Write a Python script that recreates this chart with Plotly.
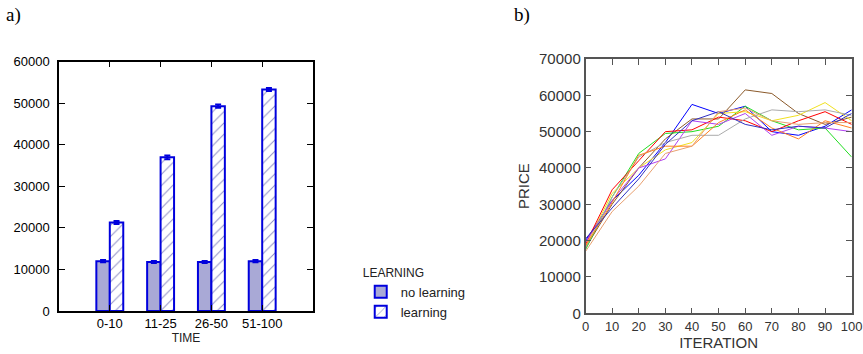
import plotly.graph_objects as go

# ---- panel a) data ----
categories = ["0-10", "11-25", "26-50", "51-100"]
no_learning = [12000, 11800, 11800, 12000]
no_learning_err = [250, 250, 250, 250]
learning = [21300, 37000, 49300, 53300]
learning_err = [350, 450, 400, 350]

# ---- panel b) data ----
iterations = [0, 10, 20, 30, 40, 50, 60, 70, 80, 90, 100]
runs = {
    "blue":     [20000, 31000, 38000, 47000, 57500, 55000, 57000, 50000, 49000, 51500, 56000],
    "#8B5A2B":  [18000, 30000, 40000, 48000, 53500, 53500, 61500, 60500, 55000, 52000, 54000],
    "#22dd22":  [17500, 32000, 44000, 49500, 50000, 51500, 57000, 53000, 50500, 51000, 43000],
    "#f0e020":  [18500, 33000, 40000, 45000, 47000, 55000, 55500, 53000, 54500, 58000, 53000],
    "red":      [19000, 34000, 42000, 50000, 50500, 54000, 53000, 50000, 53000, 55500, 52000],
    "#b040f0":  [19500, 31000, 40000, 42500, 53000, 52000, 55000, 49000, 51500, 51000, 50000],
    "#aaaaaa":  [18000, 32000, 43000, 47000, 49000, 49000, 53500, 56000, 55500, 56000, 54500],
    "#ff8020":  [18500, 30500, 43500, 46000, 46000, 52500, 56000, 51000, 48000, 53000, 51000],
    "#3030c0":  [20500, 29000, 37000, 46500, 53000, 55500, 52000, 50500, 51500, 51000, 55000],
    "#e8a070":  [17000, 28000, 35000, 44000, 46000, 55500, 56500, 53000, 52000, 52500, 52500],
}

fig = go.Figure()

fig.add_trace(go.Bar(
    x=categories, y=no_learning, name="no learning",
    marker=dict(color="#a9a9d6", line=dict(color="#0000dd", width=2)),
    error_y=dict(type="data", array=no_learning_err, color="#0000dd", thickness=2, width=3),
    xaxis="x", yaxis="y",
))
fig.add_trace(go.Bar(
    x=categories, y=learning, name="learning",
    marker=dict(color="white", line=dict(color="#0000dd", width=2),
                pattern=dict(shape="/", fgcolor="#1a1a8a", bgcolor="white", size=8, solidity=0.12)),
    error_y=dict(type="data", array=learning_err, color="#0000dd", thickness=2, width=3),
    xaxis="x", yaxis="y",
))

for color, vals in runs.items():
    fig.add_trace(go.Scatter(
        x=iterations, y=vals, mode="lines", line=dict(color=color, width=1),
        showlegend=False, xaxis="x2", yaxis="y2",
    ))

font_sans = "Liberation Sans, Arial, sans-serif"
fig.update_layout(
    width=863, height=354,
    margin=dict(l=0, r=0, t=0, b=0, autoexpand=False),
    paper_bgcolor="white", plot_bgcolor="white",
    font=dict(family=font_sans, size=13, color="#222"),
    barmode="group", bargap=0.47, bargroupgap=0.0,
    showlegend=True,
    legend=dict(
        title=dict(text="LEARNING", font=dict(size=12)),
        x=0.418, y=0.262, xanchor="left", yanchor="top",
        font=dict(size=13), bgcolor="rgba(0,0,0,0)",
        tracegroupgap=0, itemwidth=30,
    ),
    xaxis=dict(
        domain=[59/863, 313/863], range=[-1, 4], type="category",
        showline=True, linecolor="black", linewidth=1.5, mirror="ticks",
        ticks="inside", ticklen=6, tickcolor="black", showgrid=False,
        title=dict(text="TIME", font=dict(size=12), standoff=1),
        tickfont=dict(size=13, color="black"), anchor="y",
    ),
    yaxis=dict(
        domain=[1 - 311/354, 1 - 61.7/354], range=[0, 60000], dtick=10000, tickformat="d",
        showline=True, linecolor="black", linewidth=1.5, mirror="ticks",
        ticks="inside", ticklen=6, tickcolor="black", showgrid=False, zeroline=False,
        tickfont=dict(size=13, color="black"), anchor="x", ticklabelstandoff=5,
    ),
    xaxis2=dict(
        domain=[585.5/863, 851.7/863], range=[0, 100], dtick=10,
        showline=True, linecolor="#555", linewidth=1.5, mirror="ticks",
        ticks="inside", ticklen=6, tickcolor="#555", showgrid=False, zeroline=False,
        title=dict(text="ITERATION", font=dict(size=15, color="#333"), standoff=3),
        tickfont=dict(size=13, color="#333"), anchor="y2",
    ),
    yaxis2=dict(
        domain=[1 - 313.3/354, 1 - 59/354], range=[0, 70000], dtick=10000, tickformat="d",
        showline=True, linecolor="#555", linewidth=1.5, mirror="ticks",
        ticks="inside", ticklen=6, tickcolor="#555", showgrid=False, zeroline=False,
        title=dict(text="PRICE", font=dict(size=15, color="#333"), standoff=6),
        tickfont=dict(size=15, color="#333"), anchor="x2",
    ),
    annotations=[
        dict(text="a)", x=4/863, y=1 - 2/354, xref="paper", yref="paper", showarrow=False,
             xanchor="left", yanchor="top",
             font=dict(family="Liberation Serif, Times New Roman, serif", size=19, color="black")),
        dict(text="b)", x=512/863, y=1 - 2/354, xref="paper", yref="paper", showarrow=False,
             xanchor="left", yanchor="top",
             font=dict(family="Liberation Serif, Times New Roman, serif", size=19, color="black")),
    ],
)

fig.write_html("out.html", config={"displayModeBar": False},
               post_script="document.body.style.margin='0';document.body.style.padding='0';")
